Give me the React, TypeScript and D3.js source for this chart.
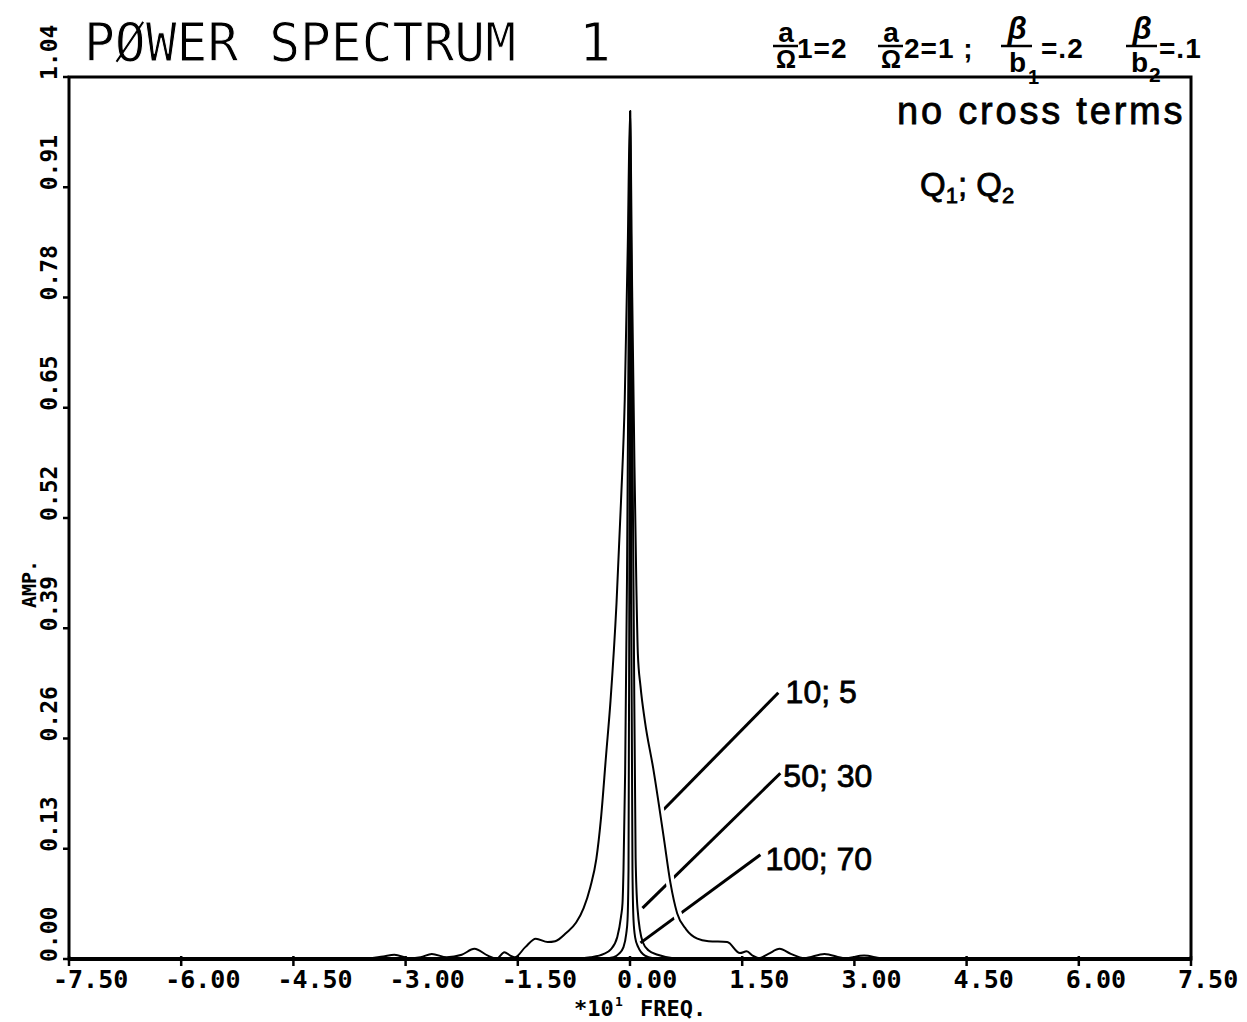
import React from "react";
import * as d3 from "d3";

// ---- data ----
const X_TICKS = [-7.5, -6, -4.5, -3, -1.5, 0, 1.5, 3, 4.5, 6, 7.5];
const X_TICK_LABELS = ["-7.50", "-6.00", "-4.50", "-3.00", "-1.50", "0.00", "1.50", "3.00", "4.50", "6.00", "7.50"];
const Y_TICKS = [0, 0.13, 0.26, 0.39, 0.52, 0.65, 0.78, 0.91, 1.04];
const Y_TICK_LABELS = ["0.00", "0.13", "0.26", "0.39", "0.52", "0.65", "0.78", "0.91", "1.04"];

// Q1;Q2 = 10;5 (broad)
const SERIES_10_5: [number, number][] = [
  [-7.5, 0], [-3.6, 0], [-3.3, 0.003], [-3.15, 0.005], [-2.95, 0.001], [-2.8, 0.002], [-2.65, 0.006],
  [-2.45, 0.002], [-2.25, 0.005], [-2.08, 0.012], [-1.9, 0.004], [-1.78, 0.0005], [-1.68, 0.008],
  [-1.6, 0.004], [-1.54, 0.002], [-1.4, 0.014], [-1.26, 0.024], [-1.1, 0.02], [-1.0, 0.021],
  [-0.85, 0.031], [-0.72, 0.043], [-0.62, 0.06], [-0.53, 0.085], [-0.45, 0.118], [-0.39, 0.164],
  [-0.32, 0.24], [-0.26, 0.305], [-0.18, 0.42], [-0.12, 0.54], [-0.07, 0.66], [-0.03, 0.84],
  [0, 1.0], [0.03, 0.78], [0.06, 0.58], [0.085, 0.44], [0.105, 0.36], [0.14, 0.322], [0.2, 0.28],
  [0.31, 0.225], [0.45, 0.144], [0.54, 0.09], [0.63, 0.054], [0.75, 0.035], [0.9, 0.024],
  [1.05, 0.021], [1.3, 0.02], [1.47, 0.007], [1.56, 0.009], [1.64, 0.004], [1.72, 0.001],
  [1.85, 0.006], [2.0, 0.012], [2.15, 0.006], [2.33, 0.001], [2.6, 0.006], [2.87, 0.001],
  [3.13, 0.004], [3.35, 0.001], [3.6, 0], [7.5, 0],
];

// Q1;Q2 = 50;30
const SERIES_50_30: [number, number][] = [
  [-7.5, 0], [-0.8, 0], [-0.53, 0.002], [-0.35, 0.006], [-0.26, 0.011], [-0.17, 0.026],
  [-0.12, 0.05], [-0.1, 0.066], [-0.087, 0.105], [-0.065, 0.22], [-0.04, 0.45], [-0.02, 0.72],
  [0, 1.0], [0.025, 0.7], [0.05, 0.4], [0.075, 0.12], [0.1, 0.06], [0.17, 0.02], [0.25, 0.01],
  [0.37, 0.005], [0.58, 0.001], [0.8, 0], [7.5, 0],
];

// Q1;Q2 = 100;70
const SERIES_100_70: [number, number][] = [
  [-7.5, 0], [-0.4, 0], [-0.22, 0.002], [-0.15, 0.006], [-0.087, 0.014], [-0.05, 0.03],
  [-0.033, 0.046], [-0.02, 0.105], [-0.01, 0.4], [0.004, 1.0], [0.018, 0.4], [0.033, 0.105],
  [0.047, 0.046], [0.07, 0.025], [0.11, 0.014], [0.2, 0.004], [0.31, 0.001], [0.5, 0], [7.5, 0],
];

const SERIES_LABELS = ["10; 5", "50; 30", "100; 70"];
// leader lines: [curve end x, y, label end x, y] in data units
const LEADERS: [number, number, number, number][] = [
  [0.447, 0.176, 1.983, 0.314],
  [0.167, 0.06, 2.01, 0.219],
  [0.14, 0.019, 1.743, 0.123],
];
const LABEL_POS: [number, number][] = [
  [2.08, 0.302],
  [2.05, 0.203],
  [1.81, 0.105],
];

const W = 1247;
const H = 1022;
const M = { left: 69, right: 1191, top: 77, bottom: 959 };

export default function App() {
  const x = d3.scaleLinear().domain([-7.5, 7.5]).range([M.left, M.right]);
  const y = d3.scaleLinear().domain([0, 1.04]).range([M.bottom, M.top]);
  const line = d3
    .line<[number, number]>()
    .x((d) => x(d[0]))
    .y((d) => y(d[1]))
    .curve(d3.curveMonotoneX);

  const allSeries = [SERIES_10_5, SERIES_50_30, SERIES_100_70];
  const mono = "'DejaVu Sans Mono', monospace";
  const sans = "'Liberation Sans', Arial, sans-serif";

  return (
    <svg
      width={W}
      height={H}
      viewBox={`0 0 ${W} ${H}`}
      style={{ position: "absolute", left: 0, top: 0, background: "#fff" }}
    >
      <rect x={0} y={0} width={W} height={H} fill="#fff" />

      {/* title */}
      <text
        x={84}
        y={61}
        fontFamily={mono}
        fontSize={53}
        fill="#000"
        stroke="#fff"
        strokeWidth={1}
        textLength={432}
        lengthAdjust="spacingAndGlyphs"
      >
        PØWER SPECTRUM
      </text>
      <text x={595} y={61} fontFamily={mono} fontSize={53} fill="#000" stroke="#fff" strokeWidth={1} textAnchor="middle">
        1
      </text>

      {/* parameters top right */}
      <g fontFamily={sans} fill="#000" fontWeight="bold">
        <text x={786} y={42} fontSize={28} textAnchor="middle">a</text>
        <line x1={773} x2={798} y1={46} y2={46} stroke="#000" strokeWidth={2.5} />
        <text x={786} y={68} fontSize={25} textAnchor="middle">Ω</text>
        <text x={797} y={58} fontSize={28} letterSpacing={1}>1=2</text>

        <text x={891} y={42} fontSize={28} textAnchor="middle">a</text>
        <line x1={878} x2={903} y1={46} y2={46} stroke="#000" strokeWidth={2.5} />
        <text x={891} y={68} fontSize={25} textAnchor="middle">Ω</text>
        <text x={904} y={58} fontSize={28} letterSpacing={1}>2=1 ;</text>

        <text x={1017} y={39} fontSize={31} textAnchor="middle" fontStyle="italic">β</text>
        <line x1={1001} x2={1032} y1={46} y2={46} stroke="#000" strokeWidth={2.5} />
        <text x={1009} y={72} fontSize={28}>b</text>
        <text x={1028} y={84} fontSize={20}>1</text>
        <text x={1041} y={58} fontSize={28} letterSpacing={1}>=.2</text>

        <text x={1142} y={39} fontSize={31} textAnchor="middle" fontStyle="italic">β</text>
        <line x1={1126} x2={1157} y1={46} y2={46} stroke="#000" strokeWidth={2.5} />
        <text x={1131} y={72} fontSize={28}>b</text>
        <text x={1149} y={82} fontSize={21}>2</text>
        <text x={1159} y={58} fontSize={28} letterSpacing={1}>=.1</text>
      </g>

      <text x={897} y={124} fontFamily={sans} fontSize={38} letterSpacing={2.8} fill="#000" stroke="#000" strokeWidth={0.8}>
        no cross terms
      </text>
      <text x={920} y={196} fontFamily={sans} fontSize={33} fill="#000" stroke="#000" strokeWidth={0.8}>
        Q<tspan fontSize={22} dy={7}>1</tspan>
        <tspan dy={-7}>; Q</tspan>
        <tspan fontSize={22} dy={7}>2</tspan>
      </text>

      {/* leader lines */}
      {LEADERS.map((l, i) => (
        <line key={"ld" + i} x1={x(l[0])} y1={y(l[1])} x2={x(l[2])} y2={y(l[3])} stroke="#000" strokeWidth={3} />
      ))}
      {/* gaps where leaders cross the broad curve */}
      <path d={line(SERIES_10_5) || ""} fill="none" stroke="#fff" strokeWidth={9} />

      {/* curves */}
      {allSeries.map((s, i) => (
        <path key={"s" + i} d={line(s) || ""} fill="none" stroke="#000" strokeWidth={2} strokeLinejoin="round" />
      ))}

      {SERIES_LABELS.map((t, i) => (
        <text
          key={"lb" + i}
          x={x(LABEL_POS[i][0])}
          y={y(LABEL_POS[i][1])}
          fontFamily={sans}
          fontSize={32}
          fill="#000"
          stroke="#000"
          strokeWidth={0.8}
        >
          {t}
        </text>
      ))}

      {/* frame */}
      <rect x={M.left} y={M.top} width={M.right - M.left} height={M.bottom - M.top} fill="none" stroke="#000" strokeWidth={3} />
      <line x1={M.left} x2={M.right} y1={M.bottom} y2={M.bottom} stroke="#000" strokeWidth={4} />

      {/* x ticks */}
      {X_TICKS.map((v, i) => (
        <g key={"xt" + i}>
          <line x1={x(v)} x2={x(v)} y1={M.bottom - 3} y2={M.bottom + 7} stroke="#000" strokeWidth={2.5} />
          <text x={x(v) - (v < 0 ? 16 : 13)} y={988} fontFamily={mono} fontWeight="bold" fontSize={25} fill="#000">
            {X_TICK_LABELS[i]}
          </text>
        </g>
      ))}
      {/* y ticks */}
      {Y_TICKS.map((v, i) => (
        <g key={"yt" + i}>
          <line x1={M.left - 6} x2={M.left} y1={y(v)} y2={y(v)} stroke="#000" strokeWidth={2.5} />
          <text
            transform={`translate(57,${y(v) + 3}) rotate(-90)`}
            fontFamily={mono}
            fontWeight="bold"
            fontSize={23}
            fill="#000"
          >
            {Y_TICK_LABELS[i]}
          </text>
        </g>
      ))}

      {/* axis titles */}
      <text transform="translate(36,608) rotate(-90)" fontFamily={mono} fontWeight="bold" fontSize={20} fill="#000">
        AMP.
      </text>
      <text x={574} y={1016} fontFamily={mono} fontWeight="bold" fontSize={22} fill="#000">
        *10
      </text>
      <text x={615} y={1006} fontFamily={mono} fontWeight="bold" fontSize={13} fill="#000">
        1
      </text>
      <text x={640} y={1016} fontFamily={mono} fontWeight="bold" fontSize={22} fill="#000">
        FREQ.
      </text>
    </svg>
  );
}
